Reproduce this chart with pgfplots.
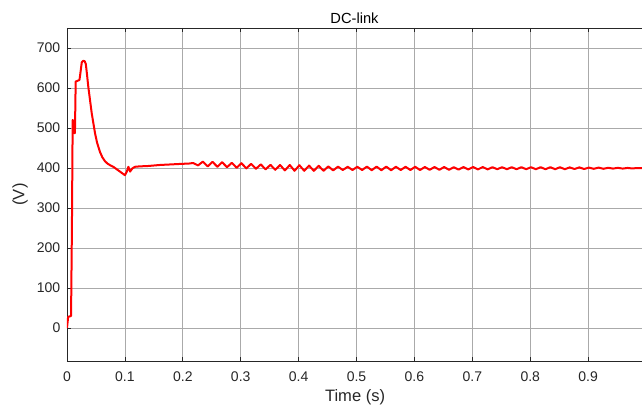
\documentclass[border=0pt]{standalone}
\usepackage{pgfplots}
\pgfplotsset{compat=1.18}
\usetikzlibrary{calc}
\usepackage{fontspec}
\setmainfont{Liberation Sans}
\definecolor{gridc}{RGB}{170,170,170}
\definecolor{axc}{RGB}{38,38,38}
\begin{document}
\begin{tikzpicture}
\begin{axis}[
  name=ax,
  scale only axis,
  width=431.25pt, height=249.75pt,
  xmin=0, xmax=0.993, ymin=-82.5, ymax=750,
  enlargelimits=false,
  axis x line=box, axis y line=left,
  axis line style={axc, line width=0.7pt},
  y axis line style={-},
  x axis line style={-},
  xtick={0,0.1,...,0.9},
  ytick={0,100,...,700},
  xticklabels={0,0.1,0.2,0.3,0.4,0.5,0.6,0.7,0.8,0.9},
  tick align=inside,
  major tick length=3pt,
  tick style={axc, line width=0.5pt},
  grid=major,
  major grid style={gridc, line width=0.6pt},
  /pgf/number format/assume math mode=true,
  tick label style={font=\fontsize{10.5}{12}\selectfont, text=axc},
  xticklabel style={yshift=-4.5pt},
  yticklabel style={xshift=-1.5pt},
  title={DC-link},
  title style={font=\fontsize{11}{13}\selectfont, at={(axis description cs:0.5,1)}, anchor=center, yshift=1.5pt},
  xlabel={Time (s)},
  xlabel style={font=\fontsize{12.4}{14}\selectfont, at={(axis description cs:0.501,0)}, anchor=center, yshift=-27pt, text=axc},
  ylabel={(V)},
  ylabel style={font=\fontsize{12.4}{14}\selectfont, at={(axis description cs:-0.0817,0.5)}, anchor=center, rotate=0, text=axc},
]
\addplot[red, line width=1.5pt, line join=round] coordinates {
(0,0) (0.002,28) (0.007,30) (0.0085,250) (0.0098,520) (0.012,515) (0.0128,487) (0.0137,487)
(0.015,616) (0.0215,620) (0.0225,630) (0.0255,664) (0.028,668) (0.0305,667) (0.0325,660)
(0.034,641) (0.0368,603) (0.0427,537) (0.0484,487) (0.052,463) (0.057,440) (0.061,427)
(0.0656,417) (0.07,411) (0.075,406.5)
(0.08,403) (0.0915,391) (0.1,382) (0.103,390) (0.106,403) (0.109,391) (0.1128,399)
(0.1174,403) (0.125,404) (0.14,405) (0.16,407.5) (0.18,409) (0.2,410.5) (0.21,411)
(0.218,412.5) (0.2263,406.5) (0.2347,416) (0.2430,404) (0.2513,415.5) (0.2597,403)
(0.268,414.5) (0.2763,402) (0.2847,413) (0.293,400.5) (0.3013,412) (0.3097,399)
(0.318,410.5) (0.3263,398) (0.3347,409) (0.343,396.5) (0.3513,408) (0.3597,395.5)
(0.368,407.5) (0.3763,394) (0.3847,407.5) (0.393,393) (0.4013,407) (0.4097,393)
(0.418,406) (0.4263,393) (0.4347,405.5) (0.443,393) (0.4513,404) (0.4597,394)
(0.468,403.5) (0.4763,395) (0.4847,403) (0.493,395) (0.5013,403) (0.5097,395)
(0.518,403.5) (0.5263,394.5) (0.5347,403.5) (0.543,394.5) (0.5513,403.5) (0.5597,394.5)
(0.568,403) (0.5763,395) (0.5847,403) (0.593,395) (0.6013,403) (0.6097,395)
(0.618,402.5) (0.6263,395.5) (0.6347,402.5) (0.643,395.5) (0.6513,402.5) (0.6597,395.5)
(0.668,402) (0.6763,396) (0.6847,402.5) (0.693,396.5) (0.7013,402.5) (0.7097,396.5)
(0.718,402.5) (0.7263,396.5) (0.7347,402) (0.743,397) (0.7513,402) (0.7597,397)
(0.768,402) (0.7763,397) (0.7847,402) (0.793,397) (0.8013,402) (0.8097,397)
(0.818,402) (0.8263,397) (0.8347,402) (0.843,397) (0.8513,402) (0.8597,397)
(0.868,401.5) (0.8763,397.5) (0.8847,401.5) (0.893,397.5) (0.9013,401) (0.9097,398)
(0.918,401) (0.9263,398) (0.9347,400.5) (0.943,398.5) (0.9513,400.5) (0.9597,398.5)
(0.968,400.2) (0.9763,398.8) (0.9847,400) (0.993,399.5)
};
\end{axis}
\pgfresetboundingbox
\path[use as bounding box] ($(ax.south west)+(-50.25pt,-33pt)$) rectangle ($(ax.north east)+(0pt,21pt)$);
\end{tikzpicture}
\end{document}
